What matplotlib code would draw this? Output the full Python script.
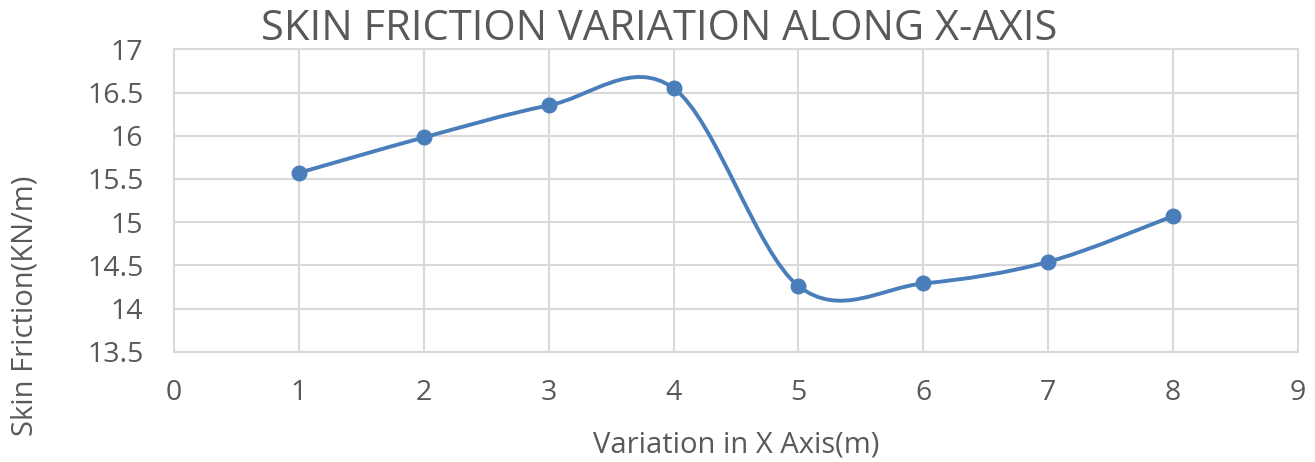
import matplotlib
matplotlib.use("Agg")
import matplotlib.pyplot as plt
from matplotlib.path import Path
from matplotlib.patches import PathPatch

x_vals = [1, 2, 3, 4, 5, 6, 7, 8]
y_vals = [15.57, 15.98, 16.35, 16.55, 14.26, 14.29, 14.54, 15.07]
x_ticks = [0, 1, 2, 3, 4, 5, 6, 7, 8, 9]
y_ticks = [13.5, 14, 14.5, 15, 15.5, 16, 16.5, 17]
title = "SKIN FRICTION VARIATION ALONG X-AXIS"
xlabel = "Variation in X Axis(m)"
ylabel = "Skin Friction(KN/m)"

color = "#4A7EBB"
text_color = "#595959"
plt.rcParams['font.family'] = ['Open Sans', 'DejaVu Sans']

W, H = 1315, 462
fig = plt.figure(figsize=(W / 100, H / 100), dpi=100)
ax = fig.add_axes([174 / W, 1 - 351.7 / H, (1298 - 174) / W, (351.7 - 49.3) / H])

# Excel-style smoothed line (cubic Bezier, Catmull-Rom control points)
n = len(x_vals)
verts = [(x_vals[0], y_vals[0])]
codes = [Path.MOVETO]
for i in range(n - 1):
    p0 = (x_vals[max(i - 1, 0)], y_vals[max(i - 1, 0)])
    p1 = (x_vals[i], y_vals[i])
    p2 = (x_vals[i + 1], y_vals[i + 1])
    p3 = (x_vals[min(i + 2, n - 1)], y_vals[min(i + 2, n - 1)])
    c1 = (p1[0] + (p2[0] - p0[0]) / 6, p1[1] + (p2[1] - p0[1]) / 6)
    c2 = (p2[0] - (p3[0] - p1[0]) / 6, p2[1] - (p3[1] - p1[1]) / 6)
    verts += [c1, c2, p2]
    codes += [Path.CURVE4] * 3
ax.add_patch(PathPatch(Path(verts, codes), facecolor='none', edgecolor=color,
                       lw=2.8, capstyle='round', joinstyle='round', zorder=3))
ax.plot(x_vals, y_vals, linestyle='none', marker='o', ms=10.5, color=color, zorder=4)

ax.set_xlim(0, 9)
ax.set_ylim(13.5, 17)
ax.set_xticks(x_ticks)
ax.set_yticks(y_ticks)
ax.set_xticklabels([str(v) for v in x_ticks])
ax.set_yticklabels([f"{v:g}" for v in y_ticks])
ax.grid(True, color="#D9D9D9", lw=1.5)
ax.set_axisbelow(True)
for s in ax.spines.values():
    s.set_color("#D9D9D9")
    s.set_linewidth(1.5)
ax.tick_params(length=0, labelsize=20.5, colors=text_color)
ax.tick_params(axis='x', pad=20)
ax.tick_params(axis='y', pad=22)

fig.text(659 / W, 1 - 40 / H, title, fontsize=30, color=text_color,
         ha='center', va='baseline')
fig.text(736 / W, 1 - 452.7 / H, xlabel, fontsize=21, color=text_color,
         ha='center', va='baseline')
fig.text(33 / W, 1 - 306 / H, ylabel, fontsize=21, color=text_color,
         ha='center', va='baseline', rotation=90, rotation_mode='anchor')

fig.savefig("out.png", dpi=100)
